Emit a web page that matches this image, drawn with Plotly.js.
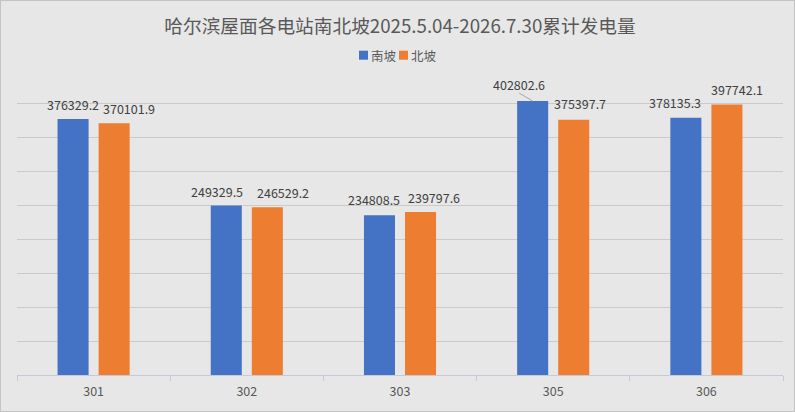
<!DOCTYPE html>
<html>
<head>
<meta charset="utf-8">
<script src="https://cdn.plot.ly/plotly-3.0.1.min.js"></script>
<style>
html,body{margin:0;padding:0;background:#e7e7e7;}
#wrap{position:relative;width:795px;height:412px;}
#chart{position:absolute;left:0;top:0;width:795px;height:412px;}
#frame{position:absolute;left:0;top:0;width:795px;height:412px;box-sizing:border-box;border:1px solid #c4c4c4;pointer-events:none;}
</style>
</head>
<body>
<div id="wrap"><div id="chart"></div><div id="frame"></div></div>
<script>
const categories = ['301', '302', '303', '305', '306'];
const southValues = [376329.2, 249329.5, 234808.5, 402802.6, 378135.3];
const northValues = [370101.9, 246529.2, 239797.6, 375397.7, 397742.1];
const seriesNames = ['南坡', '北坡'];
const titleText = '哈尔滨屋面各电站南北坡2025.5.04-2026.7.30累计发电量';

const FONT = '"Microsoft YaHei", "Noto Sans CJK SC", "Noto Sans", sans-serif';
const BLUE = '#4472c4', ORANGE = '#ed7d31';

// label nudges (px) relative to each bar centre, mimicking the reference placement
const southNudge = [[0, 15], [-9.5, 13.5], [-5.5, 15.5], [-13.5, 17], [-10.5, 15]];
const northNudge = [[14.5, 15], [16, 15.3], [13.5, 14.7], [6.5, 16], [10, 15]];
const barOffset = 20.5;

const traces = [
  {type: 'bar', name: seriesNames[0], x: categories, y: southValues,
   marker: {color: BLUE}, hoverinfo: 'x+y', showlegend: false},
  {type: 'bar', name: seriesNames[1], x: categories, y: northValues,
   marker: {color: ORANGE}, hoverinfo: 'x+y', showlegend: false}
];

const fmt = v => v.toFixed(1);
const annotations = [];
categories.forEach((c, i) => {
  // on a category axis a numeric position is the category index
  annotations.push({x: i, y: southValues[i], xref: 'x', yref: 'y', text: fmt(southValues[i]),
    showarrow: false, xanchor: 'center', yanchor: 'middle',
    xshift: -barOffset + southNudge[i][0], yshift: southNudge[i][1],
    font: {family: FONT, size: 12.5, color: '#404040'}});
  annotations.push({x: i, y: northValues[i], xref: 'x', yref: 'y', text: fmt(northValues[i]),
    showarrow: false, xanchor: 'center', yanchor: 'middle',
    xshift: barOffset + northNudge[i][0], yshift: northNudge[i][1],
    font: {family: FONT, size: 12.5, color: '#404040'}});
});

// custom legend (Excel style: small square right next to the text)
const legendItems = [
  {name: seriesNames[0], color: BLUE, x0: 0.4465, x1: 0.4582, tx: 0.4595},
  {name: seriesNames[1], color: ORANGE, x0: 0.4987, x1: 0.5104, tx: 0.5117}
];
const shapes = [];
legendItems.forEach(it => {
  shapes.push({type: 'rect', xref: 'paper', yref: 'paper', x0: it.x0, x1: it.x1, y0: 1.0304, y1: 1.0598,
    fillcolor: it.color, line: {width: 0}});
  annotations.push({xref: 'paper', yref: 'paper', x: it.tx, y: 1.0451, xanchor: 'left', yanchor: 'middle',
    text: it.name, showarrow: false, font: {family: FONT, size: 12.5, color: '#595959'}});
});
// leader line for the offset label of 305 South
const leaderIdx = 3;
shapes.push({type: 'line', xref: 'x', yref: 'y', xsizemode: 'pixel', ysizemode: 'pixel',
  xanchor: leaderIdx, yanchor: southValues[leaderIdx],
  x0: -barOffset - 13.5, x1: -barOffset, y0: 8, y1: 0,
  line: {color: '#a6a6a6', width: 1}});

const layout = {
  width: 795, height: 412,
  paper_bgcolor: '#e7e7e7', plot_bgcolor: '#e7e7e7',
  margin: {l: 17, r: 12, t: 69, b: 37, pad: 0},
  title: {text: titleText, x: 0.5, xref: 'paper', xanchor: 'center', y: 0.937, yanchor: 'middle', yref: 'container',
    font: {family: FONT, size: 18.7, color: '#595959'}},
  showlegend: false,
  barmode: 'group', bargap: 0.464, bargroupgap: 0.244,
  xaxis: {type: 'category', range: [-0.5, categories.length - 0.5], showgrid: false, showline: true,
    linecolor: '#c5cad6', linewidth: 1,
    ticks: 'outside', tickson: 'boundaries', ticklen: 5, tickcolor: '#c5cad6', ticklabelstandoff: 5,
    tickfont: {family: FONT, size: 12.5, color: '#595959'}, fixedrange: true},
  yaxis: {range: [0, 450000], dtick: 50000, showgrid: true, gridcolor: '#cacaca', gridwidth: 1,
    showticklabels: false, zeroline: false, showline: false, ticks: '', fixedrange: true},
  annotations: annotations,
  shapes: shapes
};

Plotly.newPlot('chart', traces, layout, {displayModeBar: false, staticPlot: true});
</script>
</body>
</html>
